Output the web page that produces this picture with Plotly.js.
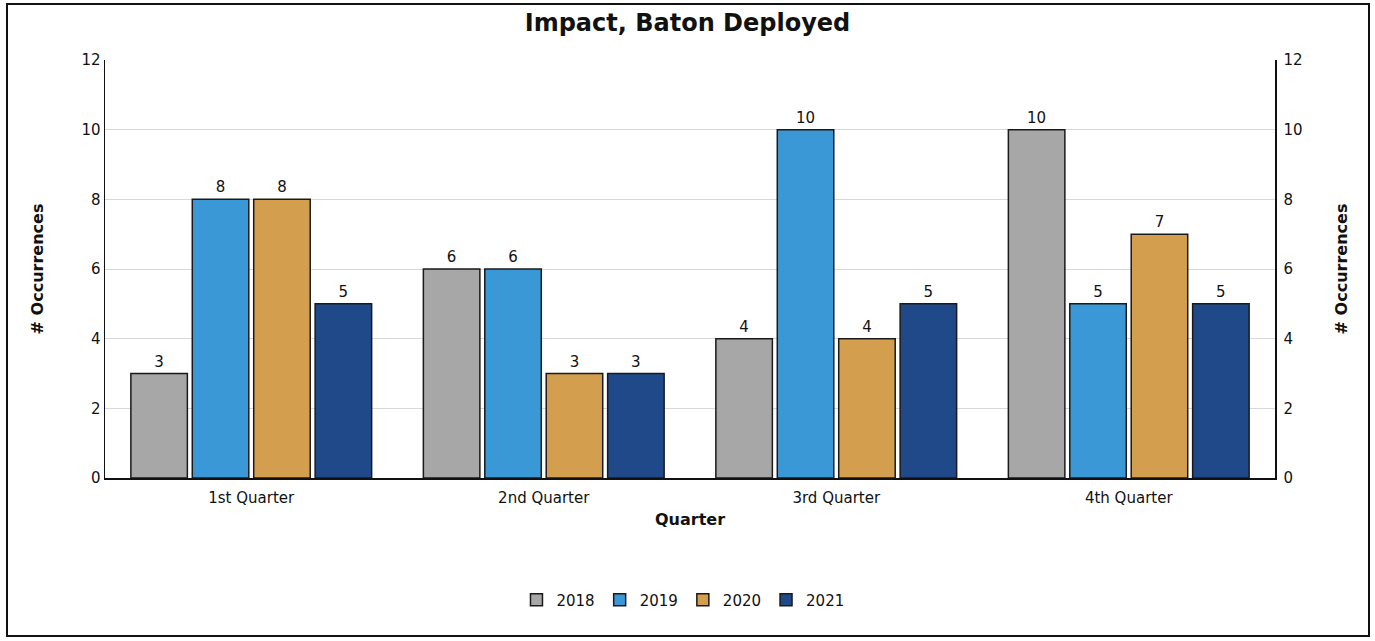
<!DOCTYPE html>
<html><head><meta charset="utf-8">
<script src="https://cdn.plot.ly/plotly-3.0.1.min.js"></script>
<style>
html,body{margin:0;padding:0;background:#fff;}
#wrap{position:relative;width:1375px;height:641px;}
#chart{width:1375px;height:641px;}
#frame{position:absolute;left:6px;top:3px;width:1364px;height:634px;border:2px solid #111;pointer-events:none;box-sizing:border-box;}
</style></head>
<body>
<div id="wrap"><div id="chart"></div><div id="frame"></div></div>
<script>
const quarters = ["1st Quarter", "2nd Quarter", "3rd Quarter", "4th Quarter"];
const years = ["2018", "2019", "2020", "2021"];
const v2018 = [3, 6, 4, 10];
const v2019 = [8, 6, 10, 5];
const v2020 = [8, 3, 4, 7];
const v2021 = [5, 3, 5, 5];
const seriesValues = [v2018, v2019, v2020, v2021];
const colors = ["#a7a7a7", "#3b98d6", "#d49e4f", "#20498a"];

const FONT = "DejaVu Sans, Verdana, sans-serif";
const traces = years.map((y, i) => ({
  type: "bar",
  name: y,
  x: quarters,
  y: seriesValues[i],
  text: seriesValues[i].map(String),
  textposition: "outside",
  cliponaxis: false,
  textfont: {family: FONT, size: 15, color: "#111"},
  marker: {color: colors[i], line: {color: "#1a1a1a", width: 1.5}},
  hoverinfo: "x+y+name"
}));
// invisible helper so the right-hand axis is drawn
traces.push({
  type: "scatter", mode: "markers", x: quarters, y: v2018, yaxis: "y2",
  marker: {opacity: 0}, showlegend: false, hoverinfo: "skip"
});

const layout = {
  width: 1375, height: 641,
  paper_bgcolor: "#fff", plot_bgcolor: "#fff",
  margin: {l: 105, r: 100, t: 60, b: 163},
  title: {text: "<b>Impact, Baton Deployed</b>", font: {family: FONT, size: 24, color: "#111"}, x: 0.5, xanchor: "center", y: 0.965, yanchor: "middle"},
  barmode: "group",
  bargap: 0.16,
  bargroupgap: 0.08,
  showlegend: true,
  legend: {orientation: "h", x: 0.494, xanchor: "center", y: -0.292, yanchor: "middle", font: {family: FONT, size: 15, color: "#111"}, traceorder: "normal"},
  xaxis: {
    showline: true, linecolor: "#111", linewidth: 1.5,
    ticks: "", ticklabelstandoff: 5, tickfont: {family: FONT, size: 15, color: "#111"},
    title: {text: "<b>Quarter</b>", font: {family: FONT, size: 16, color: "#111"}, standoff: 8},
    showgrid: false
  },
  yaxis: {
    range: [0, 12], dtick: 2, showline: true, linecolor: "#111", linewidth: 1.5,
    showgrid: true, gridcolor: "#d8d8d8", zeroline: false,
    ticks: "", tickfont: {family: FONT, size: 15, color: "#111"},
    title: {text: "<b># Occurrences</b>", font: {family: FONT, size: 16, color: "#111"}, standoff: 34}
  },
  yaxis2: {
    overlaying: "y", side: "right", anchor: "x",
    range: [0, 12], dtick: 2, showline: true, linecolor: "#111", linewidth: 1.5,
    showgrid: false, zeroline: false,
    ticks: "", ticklabelstandoff: 4, tickfont: {family: FONT, size: 15, color: "#111"},
    title: {text: "<b># Occurrences</b>", font: {family: FONT, size: 16, color: "#111"}, standoff: 34}
  }
};
Plotly.newPlot("chart", traces, layout, {displayModeBar: false, staticPlot: true});
</script>
</body></html>
